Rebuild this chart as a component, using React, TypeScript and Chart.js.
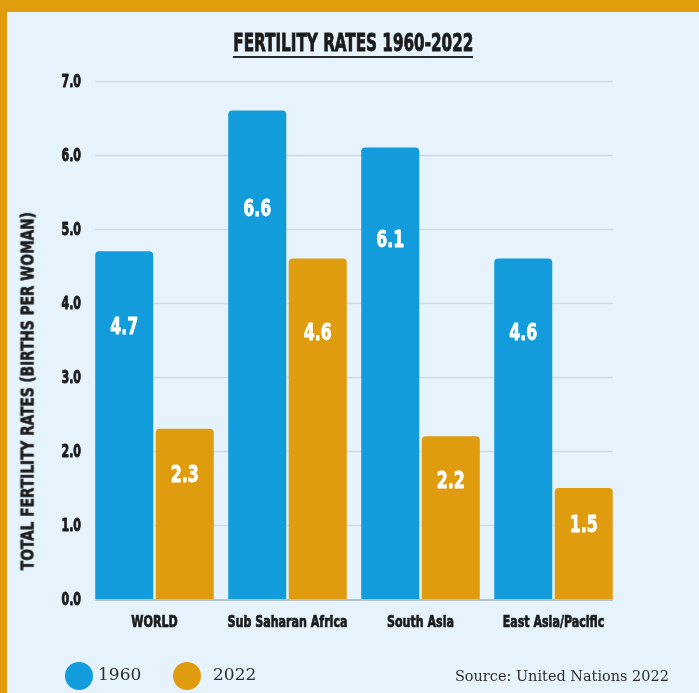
import React, { useEffect, useLayoutEffect, useRef } from 'react';
import { Chart, registerables } from 'chart.js';

Chart.register(...registerables);

// ---- data ----
const categories = ['WORLD', 'Sub Saharan Africa', 'South Asia', 'East Asia/Pacific'];
const seriesLabels = ['1960', '2022'];
const rates1960 = [4.7, 6.6, 6.1, 4.6];
const rates2022 = [2.3, 4.6, 2.2, 1.5];
const yMin = 0;
const yMax = 7;
const yStep = 1;
const titleText = 'FERTILITY RATES 1960-2022';
const yTitleText = 'TOTAL FERTILITY RATES (BIRTHS PER WOMAN)';
const sourceText = 'Source: United Nations 2022';

// ---- styles ----
const BLUE = '#129cdc';
const ORANGE = '#df9c0e';
const FRAME = '#e09d0c';
const BG = '#e6f3fc';
const INK = '#1b1b1b';
const GRID = '#cfdae2';
const AXIS = '#b8c2c8';
const CONDENSED = "'Liberation Sans Narrow', 'DejaVu Sans Condensed', 'Arial Narrow', sans-serif";
const SERIF = "'DejaVu Serif', 'Liberation Serif', serif";
const CAP = 0.729; // cap-height ratio of the condensed face

type FitProps = {
  text: string;
  width: number;
  cx: number;
  cy: number;
  rotate?: number;
  style?: React.CSSProperties;
};

function FitText({ text, width, cx, cy, rotate = 0, style }: FitProps) {
  const ref = useRef<HTMLSpanElement>(null);
  useLayoutEffect(() => {
    const el = ref.current;
    if (!el) return;
    el.style.transform = 'none';
    const r = el.getBoundingClientRect();
    const w = r.width;
    const h = r.height;
    el.style.left = `${cx - w / 2}px`;
    el.style.top = `${cy - h / 2}px`;
    el.style.transform = `rotate(${rotate}deg) scaleX(${width / w})`;
  }, [text, width, cx, cy, rotate]);
  return (
    <span
      ref={ref}
      style={{
        position: 'absolute',
        whiteSpace: 'nowrap',
        lineHeight: 1,
        transformOrigin: 'center center',
        ...style,
      }}
    >
      {text}
    </span>
  );
}

function drawNarrow(
  ctx: CanvasRenderingContext2D,
  text: string,
  x: number,
  y: number,
  sx: number,
  weight: number
) {
  ctx.save();
  ctx.translate(x, y);
  ctx.scale(sx, 1);
  if (weight > 0) {
    ctx.lineWidth = weight;
    ctx.lineJoin = 'round';
    ctx.strokeStyle = ctx.fillStyle as string;
    ctx.strokeText(text, 0, 0);
  }
  ctx.fillText(text, 0, 0);
  ctx.restore();
}

export default function App() {
  const canvasRef = useRef<HTMLCanvasElement>(null);

  useEffect(() => {
    const canvas = canvasRef.current;
    if (!canvas) return;

    const barSpan = (chart: any) => {
      const m0 = chart.getDatasetMeta(0).data;
      const m1 = chart.getDatasetMeta(1).data;
      const first = m0[0];
      const last = m1[m1.length - 1];
      return [first.x - first.width / 2, last.x + last.width / 2];
    };

    const gridPlugin = {
      id: 'customGrid',
      beforeDatasetsDraw(chart: any) {
        const { ctx, scales } = chart;
        const y = scales.y;
        const [x0, x1] = barSpan(chart);
        ctx.save();
        ctx.strokeStyle = GRID;
        ctx.lineWidth = 1.5;
        for (let v = yMin + yStep; v <= yMax; v += yStep) {
          const py = Math.round(y.getPixelForValue(v)) + 0.5;
          ctx.beginPath();
          ctx.moveTo(x0, py);
          ctx.lineTo(x1, py);
          ctx.stroke();
        }
        ctx.restore();
      },
      afterDatasetsDraw(chart: any) {
        const { ctx, scales } = chart;
        const y = scales.y;
        const [x0, x1] = barSpan(chart);
        const py = y.getPixelForValue(yMin) + 1;
        ctx.save();
        ctx.strokeStyle = AXIS;
        ctx.lineWidth = 2;
        ctx.beginPath();
        ctx.moveTo(x0, py);
        ctx.lineTo(x1, py);
        ctx.stroke();
        ctx.restore();
      },
    };

    const tickLabels = {
      id: 'tickLabels',
      afterDraw(chart: any) {
        const { ctx, scales, chartArea } = chart;
        const x = scales.x;
        const y = scales.y;
        ctx.save();
        ctx.fillStyle = INK;
        ctx.textBaseline = 'alphabetic';
        // y ticks
        const ys = 17.5;
        ctx.font = `bold ${ys}px ${CONDENSED}`;
        ctx.textAlign = 'right';
        y.ticks.forEach((t: any, i: number) => {
          const py = y.getPixelForTick(i);
          drawNarrow(ctx, Number(t.value).toFixed(1), chartArea.left - 7, py + (CAP * ys) / 2, 0.7, 0.9);
        });
        // x ticks
        const xs = 16;
        ctx.font = `bold ${xs}px ${CONDENSED}`;
        ctx.textAlign = 'center';
        const labels = x.getLabels();
        labels.forEach((lab: string, i: number) => {
          const px = x.getPixelForTick(i);
          drawNarrow(ctx, lab, px, chartArea.bottom + 27.5, 0.77, 0.7);
        });
        ctx.restore();
      },
    };

    const valueLabels = {
      id: 'valueLabels',
      afterDatasetsDraw(chart: any) {
        const { ctx, scales } = chart;
        const y = scales.y;
        const fs = 22.5;
        ctx.save();
        ctx.fillStyle = '#ffffff';
        ctx.font = `bold ${fs}px ${CONDENSED}`;
        ctx.textAlign = 'center';
        ctx.textBaseline = 'alphabetic';
        chart.data.datasets.forEach((ds: any, di: number) => {
          const meta = chart.getDatasetMeta(di);
          meta.data.forEach((bar: any, i: number) => {
            const v = ds.data[i];
            const py = y.getPixelForValue(v * 0.835 - 0.23);
            drawNarrow(ctx, v.toFixed(1), bar.x, py + (CAP * fs) / 2, 0.78, 0.8);
          });
        });
        ctx.restore();
      },
    };

    const chart = new Chart(canvas, {
      type: 'bar',
      data: {
        labels: categories,
        datasets: [
          {
            label: seriesLabels[0],
            data: rates1960,
            backgroundColor: BLUE,
            borderRadius: 4,
            borderSkipped: 'bottom',
            categoryPercentage: 0.91,
            barPercentage: 0.959,
          },
          {
            label: seriesLabels[1],
            data: rates2022,
            backgroundColor: ORANGE,
            borderRadius: 4,
            borderSkipped: 'bottom',
            categoryPercentage: 0.91,
            barPercentage: 0.959,
          },
        ],
      },
      options: {
        responsive: false,
        animation: false,
        devicePixelRatio: 1,
        layout: { padding: { left: 0, top: 81, right: 79, bottom: 0 } },
        plugins: {
          legend: { display: false },
          title: { display: false },
          tooltip: { enabled: false },
        },
        scales: {
          x: {
            grid: { display: false, drawTicks: false },
            border: { display: false },
            ticks: { display: false },
            afterFit(scale: any) {
              scale.height = 94;
            },
          },
          y: {
            min: yMin,
            max: yMax,
            grid: { display: false, drawTicks: false },
            border: { display: false },
            ticks: { display: false, stepSize: yStep },
            afterFit(scale: any) {
              scale.width = 88;
            },
          },
        },
      } as any,
      plugins: [gridPlugin, valueLabels, tickLabels],
    });

    return () => chart.destroy();
  }, []);

  const legendItems = [
    { label: seriesLabels[0], color: BLUE, cx: 79, text: 98 },
    { label: seriesLabels[1], color: ORANGE, cx: 187, text: 213 },
  ];

  return (
    <div
      style={{
        position: 'absolute',
        left: 0,
        top: 0,
        width: 699,
        height: 693,
        background: FRAME,
        overflow: 'hidden',
      }}
    >
      <div style={{ position: 'absolute', left: 7, top: 12, right: 0, bottom: 0, background: BG }} />
      <canvas
        ref={canvasRef}
        width={699}
        height={693}
        style={{ position: 'absolute', left: 0, top: 0, width: 699, height: 693 }}
      />
      <FitText
        text={titleText}
        width={240}
        cx={353}
        cy={43.2}
        style={{
          fontFamily: CONDENSED,
          fontWeight: 700,
          fontSize: 24,
          color: INK,
          WebkitTextStroke: `0.8px ${INK}`,
        }}
      />
      <div style={{ position: 'absolute', left: 233, top: 56, width: 240, height: 2, background: '#2a2a2a' }} />
      <FitText
        text={yTitleText}
        width={358}
        cx={28}
        cy={391}
        rotate={-90}
        style={{
          fontFamily: CONDENSED,
          fontWeight: 700,
          fontSize: 18,
          color: INK,
          WebkitTextStroke: `0.6px ${INK}`,
        }}
      />
      {legendItems.map((it) => (
        <React.Fragment key={it.label}>
          <div
            style={{
              position: 'absolute',
              left: it.cx - 14,
              top: 662,
              width: 28,
              height: 28,
              borderRadius: '50%',
              background: it.color,
            }}
          />
          <span
            style={{
              position: 'absolute',
              left: it.text,
              top: 665.5,
              lineHeight: 1,
              fontFamily: SERIF,
              fontSize: 17,
              color: '#2e2e2e',
              whiteSpace: 'nowrap',
            }}
          >
            {it.label}
          </span>
        </React.Fragment>
      ))}
      <FitText
        text={sourceText}
        width={214}
        cx={562}
        cy={676.7}
        style={{ fontFamily: SERIF, fontSize: 15, color: '#2e2e2e' }}
      />
    </div>
  );
}
